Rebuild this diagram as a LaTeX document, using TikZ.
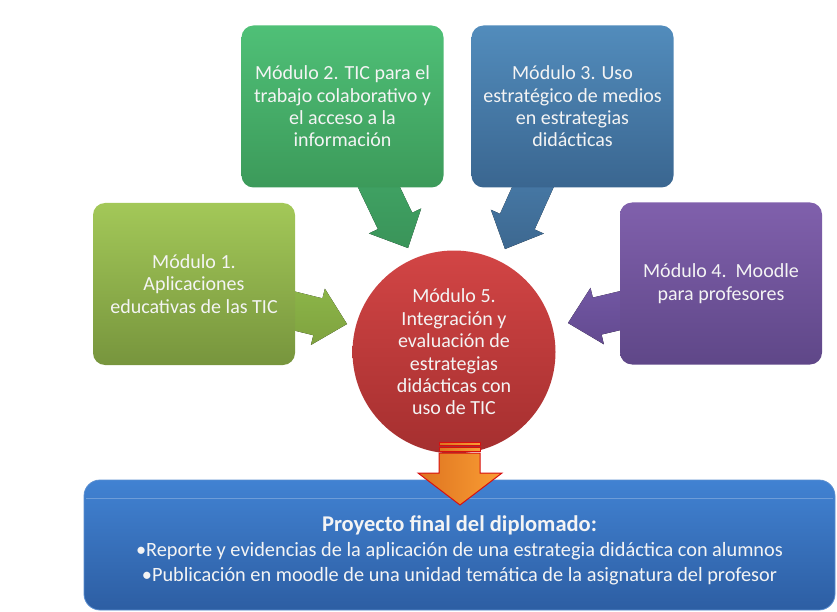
\documentclass[tikz,border=0pt]{standalone}
\usepackage{fontspec}
\setmainfont{Carlito}
\usetikzlibrary{calc}
\definecolor{txt}{HTML}{F4F4F4}
\definecolor{a1t}{HTML}{8DB749}\definecolor{a1b}{HTML}{7FA23F}
\definecolor{a2t}{HTML}{42A868}\definecolor{a2b}{HTML}{3A9459}
\definecolor{a3t}{HTML}{4A7FAE}\definecolor{a3b}{HTML}{3D6890}
\definecolor{a4t}{HTML}{7358A5}\definecolor{a4b}{HTML}{634A90}
\definecolor{b1t}{HTML}{A3C858}\definecolor{b1b}{HTML}{77953D}
\definecolor{b2t}{HTML}{4FC077}\definecolor{b2b}{HTML}{3C9A5A}
\definecolor{b3t}{HTML}{528CBC}\definecolor{b3b}{HTML}{3A6690}
\definecolor{b4t}{HTML}{8060AC}\definecolor{b4b}{HTML}{5F4788}
\definecolor{ct}{HTML}{D24545}\definecolor{cb}{HTML}{A52F2F}
\definecolor{ft}{HTML}{4182D2}\definecolor{fb}{HTML}{2D5EA3}\definecolor{fd}{HTML}{5A8ED0}
\definecolor{ol}{HTML}{DE7420}\definecolor{orr}{HTML}{FA9E34}\definecolor{ored}{HTML}{D81010}
\tikzset{
  modbox/.style={rounded corners=12pt, minimum width=202pt, minimum height=162pt,
    align=center, text=txt, font=\fontsize{20}{22.4}\selectfont, inner sep=2pt}
}
\newcommand{\blockarrow}[3]{%
  \fill[#3] ($(#1)!19pt!90:(#2)$) -- ($($(#2)!30pt!(#1)$)!19pt!90:(#2)$) --
    ($($(#2)!30pt!(#1)$)!29pt!90:(#2)$) -- (#2) --
    ($($(#2)!30pt!(#1)$)!29pt!-90:(#2)$) --
    ($($(#2)!30pt!(#1)$)!19pt!-90:(#2)$) -- ($(#1)!19pt!-90:(#2)$) -- cycle;}
\begin{document}
\begin{tikzpicture}[x=1pt,y=-1pt]
\useasboundingbox (0,0) rectangle (837,612);
% arrow coordinates
\coordinate (s1) at (250,300); \coordinate (t1) at (347,324);
\coordinate (s2) at (365,158); \coordinate (t2) at (408,248);
\coordinate (s3) at (546,158); \coordinate (t3) at (505,249);
\coordinate (s4) at (665,300); \coordinate (t4) at (568,323);
\blockarrow{s1}{t1}{top color=a1t, bottom color=a1b}
\blockarrow{s2}{t2}{top color=a2t, bottom color=a2b}
\blockarrow{s3}{t3}{top color=a3t, bottom color=a3b}
\blockarrow{s4}{t4}{top color=a4t, bottom color=a4b}
% module boxes
\node[modbox, top color=b1t, bottom color=b1b] (m1) at (194,284)
  {Módulo 1.\\Aplicaciones\\educativas de las TIC};
\node[modbox, top color=b2t, bottom color=b2b] (m2) at (342.5,106.5)
  {Módulo 2. TIC para el\\trabajo colaborativo y\\el acceso a la\\información};
\node[modbox, top color=b3t, bottom color=b3b] (m3) at (572.5,106.5)
  {Módulo 3. Uso\\estratégico de medios\\en estrategias\\didácticas};
\node[modbox, top color=b4t, bottom color=b4b] (m4) at (721,283.5)
  {Módulo 4.\ \ Moodle\\para profesores};
% central circle
\node[circle, minimum size=203pt, inner sep=0pt, align=center, text=txt,
  font=\fontsize{20}{22.4}\selectfont, top color=ct, bottom color=cb]
  (m5) at (454,352)
  {Módulo 5.\\Integración y\\evaluación de\\estrategias\\didácticas con\\uso de TIC};
% bottom box
\node[rounded corners=16pt, minimum width=751pt, minimum height=130pt,
  draw=fd, line width=0.8pt, top color=ft, bottom color=fb] (fin) at (459.5,545) {};
\node[align=center, text=txt, font=\fontsize{20.3}{25}\selectfont] (fintxt) at (459.5,550)
  {{\fontsize{22.5}{25}\selectfont\bfseries Proyecto final del diplomado:}\\
   •Reporte y evidencias de la aplicación de una estrategia didáctica con alumnos\\
   •Publicación en moodle de una unidad temática de la asignatura del profesor};
\draw[white, opacity=0.25, line width=0.8pt] ($(fin.north west)+(2,19)$) -- ($(fin.north east)+(-2,19)$);
% orange arrow
\coordinate (ot) at (460,505);
\tikzset{orng/.style={left color=ol, right color=orr, draw=ored, line width=1pt, line join=miter}}
\draw[orng] (439,442) rectangle (480,445.5);
\draw[orng] (439,447.5) rectangle (480,451);
\draw[orng] (439,453) -- (480,453) -- (480,473) -- (502,473) -- (ot) -- (418,473) -- (439,473) -- cycle;
\end{tikzpicture}
\end{document}
